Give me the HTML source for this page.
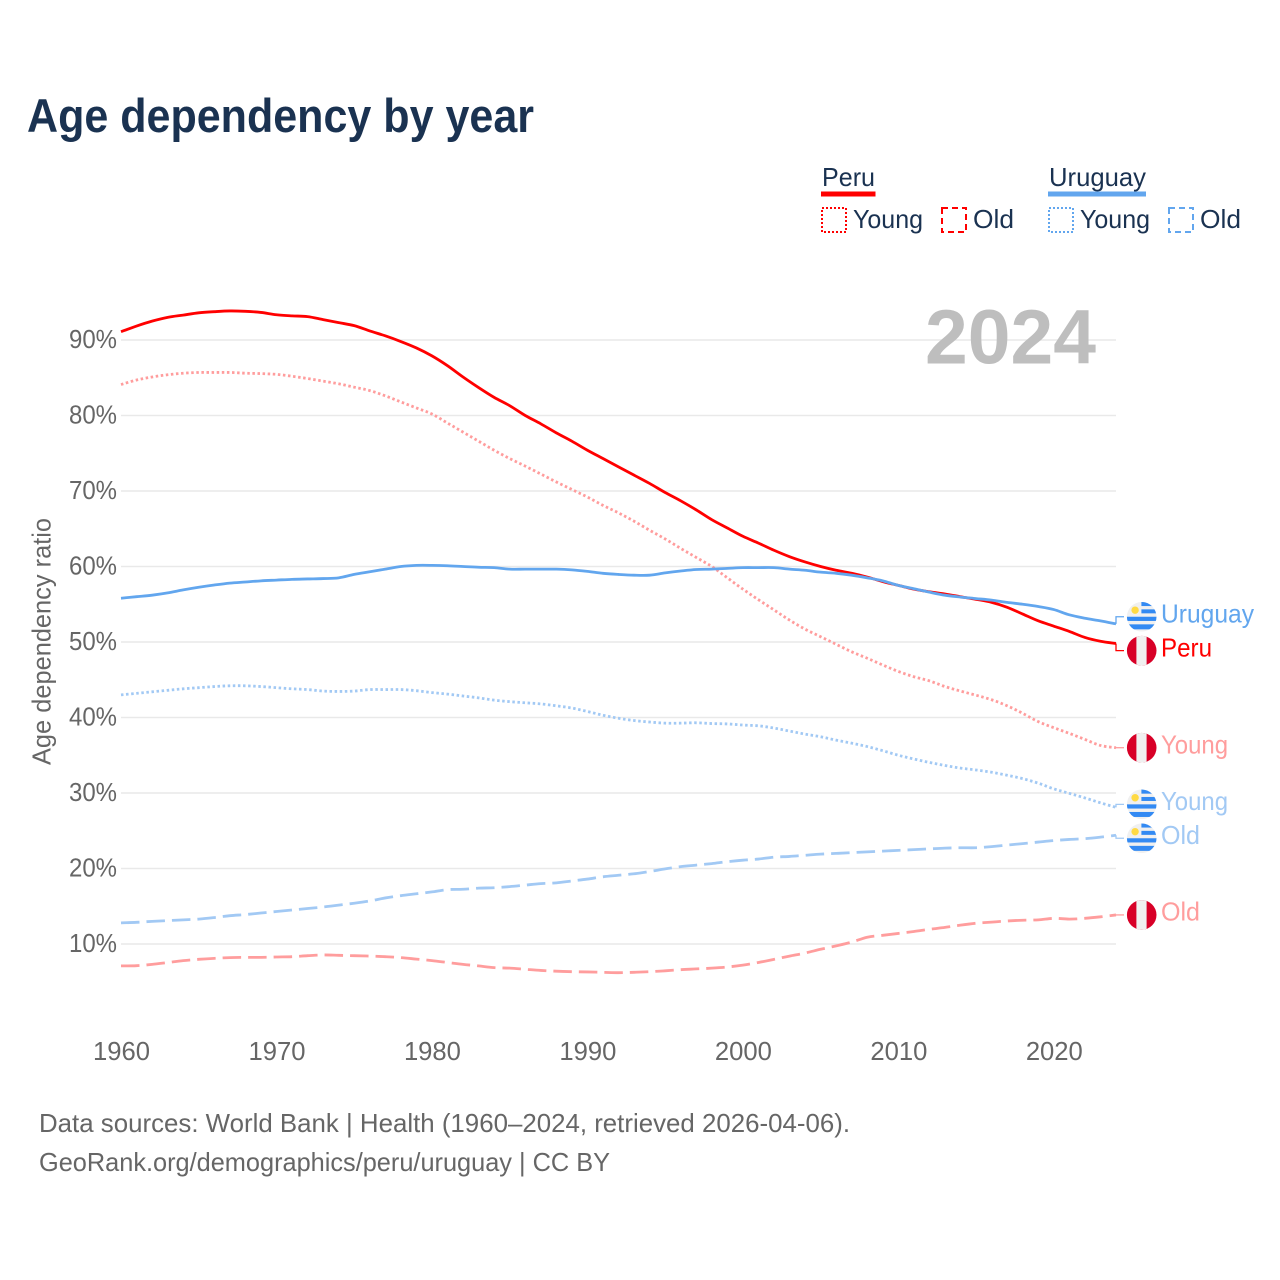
<!DOCTYPE html>
<html lang="en">
<head>
<meta charset="utf-8">
<title>Age dependency by year</title>
<style>
html,body{margin:0;padding:0;background:#fff;}
svg{display:block;font-family:"Liberation Sans",sans-serif;}
</style>
</head>
<body>
<svg id="chart" xmlns="http://www.w3.org/2000/svg" width="1280" height="1280" viewBox="0 0 1280 1280">
  <defs>
    <clipPath id="flag-clip"><circle cx="0" cy="0" r="14.8"></circle></clipPath>
  </defs>
  <rect x="0" y="0" width="1280" height="1280" fill="#ffffff"></rect>

  <text x="27" y="132" font-size="47" font-weight="700" fill="#1a3251" textLength="507" lengthAdjust="spacingAndGlyphs">Age dependency by year</text>

  <g id="grid"></g>

  <text x="925" y="363.5" font-size="77" font-weight="700" fill="#bebebe" textLength="171" lengthAdjust="spacingAndGlyphs">2024</text>

  <g id="y-axis"></g>
  <g id="x-axis"></g>
  <text transform="translate(50.5,765) rotate(-90)" font-size="26" fill="#666666" textLength="247" lengthAdjust="spacingAndGlyphs">Age dependency ratio</text>

  <g id="series"></g>
  <g id="end-labels"></g>

  <g fill="#1a3251" font-size="26">
    <g>
      <text x="822" y="186" textLength="53" lengthAdjust="spacingAndGlyphs">Peru</text>
      <rect x="821" y="191.5" width="54.5" height="5" fill="#ff0000"></rect>
      <rect x="822" y="208" width="24" height="24" fill="none" stroke="#ff0000" stroke-width="2" stroke-dasharray="2,2"></rect>
      <text x="853" y="228" textLength="70" lengthAdjust="spacingAndGlyphs">Young</text>
      <rect x="942" y="208" width="24" height="24" fill="none" stroke="#ff0000" stroke-width="2" stroke-dasharray="6,4"></rect>
      <text x="973" y="228" textLength="41" lengthAdjust="spacingAndGlyphs">Old</text>
    </g>
    <g>
      <text x="1049" y="186" textLength="97" lengthAdjust="spacingAndGlyphs">Uruguay</text>
      <rect x="1048" y="191.5" width="98" height="5" fill="#62a6ee"></rect>
      <rect x="1049" y="208" width="24" height="24" fill="none" stroke="#62a6ee" stroke-width="2" stroke-dasharray="2,2"></rect>
      <text x="1080" y="228" textLength="70" lengthAdjust="spacingAndGlyphs">Young</text>
      <rect x="1169" y="208" width="24" height="24" fill="none" stroke="#62a6ee" stroke-width="2" stroke-dasharray="6,4"></rect>
      <text x="1200" y="228" textLength="41" lengthAdjust="spacingAndGlyphs">Old</text>
    </g>
  </g>

  <text x="39" y="1132" font-size="26" fill="#666666" textLength="811" lengthAdjust="spacingAndGlyphs">Data sources: World Bank | Health (1960–2024, retrieved 2026-04-06).</text>
  <text x="39" y="1171" font-size="26" fill="#666666" textLength="571" lengthAdjust="spacingAndGlyphs">GeoRank.org/demographics/peru/uruguay | CC BY</text>
</svg>

<script>
const years = [1960,1961,1962,1963,1964,1965,1966,1967,1968,1969,1970,1971,1972,1973,1974,1975,1976,1977,1978,1979,1980,1981,1982,1983,1984,1985,1986,1987,1988,1989,1990,1991,1992,1993,1994,1995,1996,1997,1998,1999,2000,2001,2002,2003,2004,2005,2006,2007,2008,2009,2010,2011,2012,2013,2014,2015,2016,2017,2018,2019,2020,2021,2022,2023,2024];
const xTicks = [1960,1970,1980,1990,2000,2010,2020];
const yTicks = [10,20,30,40,50,60,70,80,90];

const peruTotal = [91.1,91.85,92.5,93.0,93.3,93.6,93.75,93.85,93.8,93.65,93.35,93.2,93.1,92.7,92.3,91.9,91.2,90.55,89.8,88.95,87.9,86.6,85.1,83.7,82.4,81.3,80.0,78.9,77.7,76.6,75.4,74.3,73.2,72.1,71.0,69.8,68.7,67.5,66.2,65.1,64.0,63.1,62.15,61.3,60.6,60.0,59.5,59.1,58.6,58.0,57.5,57.0,56.65,56.35,56.0,55.65,55.25,54.6,53.7,52.8,52.1,51.4,50.6,50.1,49.8];
const peruYoung = [84.1,84.7,85.1,85.4,85.6,85.7,85.7,85.7,85.6,85.55,85.45,85.2,84.9,84.55,84.2,83.75,83.3,82.6,81.8,81.0,80.2,79.0,77.8,76.6,75.4,74.3,73.3,72.25,71.2,70.2,69.2,68.1,67.1,66.0,64.8,63.65,62.4,61.2,60.0,58.5,57.0,55.6,54.25,52.9,51.7,50.7,49.7,48.7,47.85,46.95,46.1,45.4,44.85,44.1,43.5,42.95,42.35,41.55,40.55,39.45,38.65,37.9,37.1,36.3,36.0];
const peruOld = [7.1,7.13,7.3,7.55,7.8,7.97,8.1,8.2,8.23,8.23,8.28,8.32,8.45,8.55,8.5,8.45,8.4,8.32,8.2,8.0,7.8,7.55,7.3,7.1,6.87,6.8,6.65,6.5,6.4,6.33,6.3,6.25,6.2,6.25,6.33,6.45,6.6,6.7,6.8,6.95,7.2,7.55,7.97,8.4,8.8,9.3,9.75,10.25,10.9,11.15,11.4,11.65,11.95,12.2,12.5,12.75,12.9,13.05,13.15,13.2,13.4,13.3,13.4,13.6,13.85];
const uruguayTotal = [55.8,56.0,56.2,56.5,56.9,57.25,57.55,57.8,57.95,58.1,58.2,58.3,58.35,58.4,58.5,58.95,59.3,59.65,60.0,60.15,60.15,60.1,60.0,59.9,59.85,59.65,59.65,59.65,59.65,59.55,59.35,59.1,58.95,58.85,58.85,59.15,59.4,59.6,59.65,59.75,59.85,59.85,59.85,59.65,59.5,59.25,59.1,58.85,58.5,58.1,57.5,57.05,56.6,56.2,55.95,55.75,55.55,55.25,55.0,54.7,54.3,53.6,53.15,52.8,52.4];
const uruguayYoung = [43.0,43.2,43.4,43.6,43.8,43.95,44.1,44.2,44.2,44.1,43.95,43.8,43.7,43.5,43.45,43.5,43.7,43.7,43.7,43.55,43.3,43.1,42.85,42.6,42.3,42.1,41.95,41.8,41.55,41.25,40.8,40.3,39.9,39.6,39.4,39.25,39.25,39.3,39.2,39.15,39.0,38.9,38.6,38.2,37.8,37.45,37.0,36.6,36.15,35.6,35.0,34.5,34.05,33.65,33.3,33.05,32.75,32.35,31.9,31.3,30.55,29.95,29.35,28.7,28.1];
const uruguayOld = [12.8,12.87,13.0,13.1,13.2,13.3,13.5,13.75,13.9,14.1,14.3,14.5,14.7,14.9,15.15,15.4,15.7,16.1,16.4,16.65,16.9,17.2,17.25,17.4,17.45,17.6,17.8,18.0,18.1,18.35,18.6,18.9,19.1,19.3,19.6,19.95,20.25,20.45,20.65,20.9,21.1,21.25,21.5,21.6,21.75,21.9,22.0,22.1,22.2,22.3,22.4,22.5,22.6,22.7,22.75,22.75,22.9,23.1,23.3,23.5,23.7,23.85,23.95,24.15,24.4];

const NS = 'http://www.w3.org/2000/svg';
const xScale = function (yr) { return 121 + (yr - 1960) * (995 / 64); };
const yScale = function (v) { return 944 - (v - 10) * 7.55; };

function make(tag, attrs, parent) {
  const el = document.createElementNS(NS, tag);
  for (const k in attrs) { el.setAttribute(k, attrs[k]); }
  parent.appendChild(el);
  return el;
}

/* Catmull-Rom curve through every yearly point. */
function smoothPath(pts) {
  let d = 'M' + pts[0][0].toFixed(2) + ' ' + pts[0][1].toFixed(2);
  for (let i = 0; i < pts.length - 1; i++) {
    const p0 = pts[Math.max(i - 1, 0)];
    const p1 = pts[i];
    const p2 = pts[i + 1];
    const p3 = pts[Math.min(i + 2, pts.length - 1)];
    const c1x = p1[0] + (p2[0] - p0[0]) / 6;
    const c1y = p1[1] + (p2[1] - p0[1]) / 6;
    const c2x = p2[0] - (p3[0] - p1[0]) / 6;
    const c2y = p2[1] - (p3[1] - p1[1]) / 6;
    d += ' C' + c1x.toFixed(2) + ' ' + c1y.toFixed(2) + ' ' + c2x.toFixed(2) + ' ' + c2y.toFixed(2) + ' ' + p2[0].toFixed(2) + ' ' + p2[1].toFixed(2);
  }
  return d;
}

const gridLayer = document.getElementById('grid');
const yLayer = document.getElementById('y-axis');
const xLayer = document.getElementById('x-axis');
const seriesLayer = document.getElementById('series');
const labelLayer = document.getElementById('end-labels');

yTicks.forEach(function (t) {
  const line = make('line', { x1: 121, x2: 1116, y1: yScale(t), y2: yScale(t), stroke: '#e9e9e9', 'stroke-width': 1.6 }, gridLayer);
  
  
  const label = make('text', { x: 69, y: yScale(t) + 8.2, 'font-size': 26, fill: '#666666', textLength: 48, lengthAdjust: 'spacingAndGlyphs' }, yLayer);
  label.textContent = t + '%';
  
  
});

xTicks.forEach(function (t) {
  const label = make('text', { x: xScale(t) + 0.5, y: 1060, 'font-size': 26, fill: '#666666', 'text-anchor': 'middle', textLength: 57, lengthAdjust: 'spacingAndGlyphs' }, xLayer);
  label.textContent = String(t);
  
  
});

const seriesList = [
  { id: 'peru-young', values: peruYoung, color: '#ff9d9d', dash: '2.5,2.6', flag: 'peru', label: 'Young' },
  { id: 'peru-old', values: peruOld, color: '#ff9d9d', dash: '18.5,7', flag: 'peru', label: 'Old' },
  { id: 'uruguay-young', values: uruguayYoung, color: '#a2c9f4', dash: '2.5,2.6', flag: 'uruguay', label: 'Young' },
  { id: 'uruguay-old', values: uruguayOld, color: '#a2c9f4', dash: '18.5,7', flag: 'uruguay', label: 'Old' },
  { id: 'peru-total', values: peruTotal, color: '#ff0000', dash: '', flag: 'peru', label: 'Peru' },
  { id: 'uruguay-total', values: uruguayTotal, color: '#62a6ee', dash: '', flag: 'uruguay', label: 'Uruguay' }
];

seriesList.forEach(function (s) {
  const pts = s.values.map(function (v, i) {
    return [xScale(years[i]), yScale(v)];
  });
  const attrs = { d: smoothPath(pts), fill: 'none', stroke: s.color, 'stroke-width': 2.8, 'stroke-linejoin': 'round' };
  if (s.dash) { attrs['stroke-dasharray'] = s.dash; }
  const path = make('path', attrs, seriesLayer);
  
  
});

/* End labels: start at each series' final value, then push overlapping ones apart. */
const MIN_GAP = 33.9;
const placed = seriesList.map(function (s) {
  const endY = yScale(s.values[s.values.length - 1]);
  return { s: s, endY: endY, y: endY };
}).sort(function (a, b) { return a.endY - b.endY; });
for (let pass = 0; pass < 40; pass++) {
  for (let i = 1; i < placed.length; i++) {
    const gap = placed[i].y - placed[i - 1].y;
    if (gap < MIN_GAP) {
      const push = (MIN_GAP - gap) / 2;
      placed[i - 1].y -= push;
      placed[i].y += push;
    }
  }
}

function drawFlag(kind, cy, parent) {
  const g = make('g', { transform: 'translate(1141.7,' + cy.toFixed(2) + ')' }, parent);
  
  
  const inner = make('g', { 'clip-path': 'url(#flag-clip)' }, g);
  if (kind === 'peru') {
    make('rect', { x: -15, y: -15, width: 30, height: 30, fill: '#d80027' }, inner);
    make('rect', { x: -5.3, y: -15, width: 10.2, height: 30, fill: '#f0f0f0' }, inner);
  } else {
    make('rect', { x: -15, y: -15, width: 30, height: 30, fill: '#f0f0f0' }, inner);
    make('rect', { x: -0.3, y: -15, width: 16, height: 4.3, fill: '#338af3' }, inner);
    make('rect', { x: -0.3, y: -7.4, width: 16, height: 4, fill: '#338af3' }, inner);
    make('rect', { x: -15, y: 0, width: 30, height: 4.2, fill: '#338af3' }, inner);
    make('rect', { x: -15, y: 7.6, width: 30, height: 5, fill: '#338af3' }, inner);
    make('circle', { cx: -6.6, cy: -6.6, r: 3.7, fill: '#ffda44' }, inner);
  }
}

const labelWidths = { Uruguay: 93, Peru: 51, Young: 67, Old: 39 };
placed.forEach(function (p) {
  const g = make('g', {}, labelLayer);
  
  
  const c = make('path', { d: 'M1116 ' + p.endY.toFixed(2) + ' V' + p.y.toFixed(2) + ' H1124', fill: 'none', stroke: p.s.color, 'stroke-width': 1.3 }, g);
  
  
  drawFlag(p.s.flag, p.y, g);
  const t = make('text', { x: 1161, y: p.y + 5.8, 'font-size': 26, fill: p.s.color, textLength: labelWidths[p.s.label], lengthAdjust: 'spacingAndGlyphs' }, g);
  t.textContent = p.s.label;
  
  
});
</script>
</body>
</html>
